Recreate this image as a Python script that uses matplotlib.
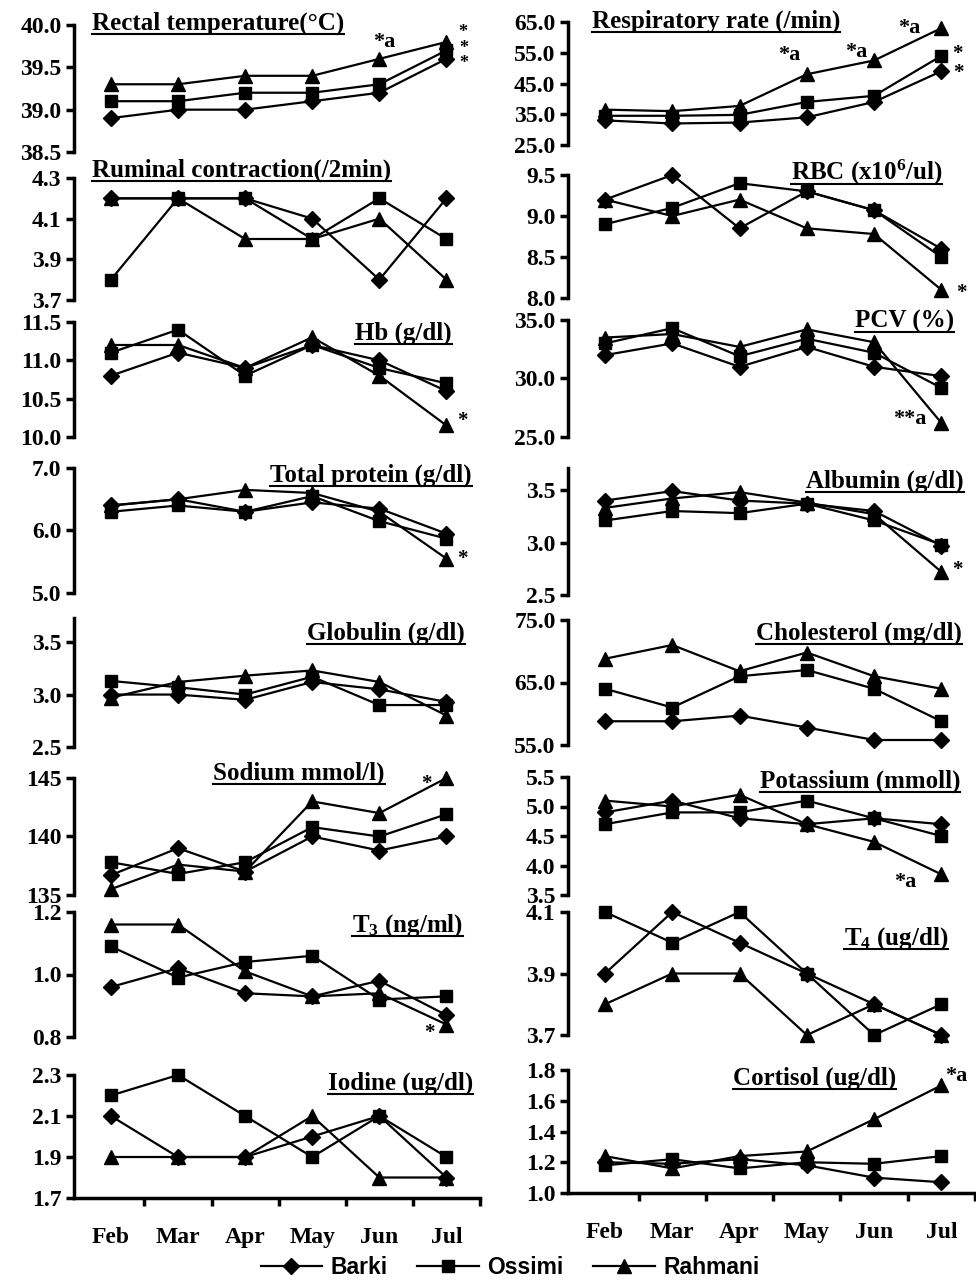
import matplotlib
matplotlib.use("Agg")
import matplotlib.pyplot as plt
from matplotlib.lines import Line2D

plt.rcParams.update({
    "font.family": "Liberation Serif",
    "font.weight": "bold",
    "mathtext.fontset": "custom",
    "mathtext.rm": "Liberation Serif:bold",
    "mathtext.bf": "Liberation Serif:bold",
    "mathtext.it": "Liberation Serif:bold",
    "mathtext.default": "rm",
})

months = ["Feb", "Mar", "Apr", "May", "Jun", "Jul"]
breeds = ["Barki", "Ossimi", "Rahmani"]

# ---- data (Barki, Ossimi, Rahmani) ----
rectal_barki = [38.9, 39.0, 39.0, 39.1, 39.2, 39.6]
rectal_ossimi = [39.1, 39.1, 39.2, 39.2, 39.3, 39.7]
rectal_rahmani = [39.3, 39.3, 39.4, 39.4, 39.6, 39.8]

rumen_barki = [4.2, 4.2, 4.2, 4.1, 3.8, 4.2]
rumen_ossimi = [3.8, 4.2, 4.2, 4.0, 4.2, 4.0]
rumen_rahmani = [4.2, 4.2, 4.0, 4.0, 4.1, 3.8]

hb_barki = [10.8, 11.1, 10.9, 11.2, 11.0, 10.6]
hb_ossimi = [11.1, 11.4, 10.8, 11.2, 10.9, 10.7]
hb_rahmani = [11.2, 11.2, 10.9, 11.3, 10.8, 10.15]

tp_barki = [6.4, 6.5, 6.3, 6.45, 6.35, 5.95]
tp_ossimi = [6.3, 6.4, 6.3, 6.55, 6.15, 5.87]
tp_rahmani = [6.4, 6.5, 6.65, 6.6, 6.3, 5.55]

glob_barki = [3.0, 3.0, 2.95, 3.12, 3.05, 2.93]
glob_ossimi = [3.13, 3.07, 3.0, 3.17, 2.9, 2.9]
glob_rahmani = [2.97, 3.12, 3.18, 3.23, 3.12, 2.8]

na_barki = [136.7, 139.0, 137.0, 140.0, 138.8, 140.0]
na_ossimi = [137.8, 136.8, 137.8, 140.8, 140.0, 141.9]
na_rahmani = [135.5, 137.6, 137.0, 143.0, 142.0, 145.0]

t3_barki = [0.96, 1.02, 0.94, 0.93, 0.98, 0.87]
t3_ossimi = [1.09, 0.99, 1.04, 1.06, 0.92, 0.93]
t3_rahmani = [1.16, 1.16, 1.01, 0.93, 0.94, 0.84]

iodine_barki = [2.1, 1.9, 1.9, 2.0, 2.1, 1.8]
iodine_ossimi = [2.2, 2.3, 2.1, 1.9, 2.1, 1.9]
iodine_rahmani = [1.9, 1.9, 1.9, 2.1, 1.8, 1.8]

resp_barki = [33.0, 32.0, 32.3, 34.0, 39.0, 49.0]
resp_ossimi = [34.5, 34.5, 34.8, 39.0, 41.0, 54.0]
resp_rahmani = [36.5, 36.0, 37.7, 48.0, 52.5, 63.0]

rbc_barki = [9.2, 9.5, 8.85, 9.3, 9.07, 8.6]
rbc_ossimi = [8.9, 9.1, 9.4, 9.3, 9.07, 8.5]
rbc_rahmani = [9.2, 9.0, 9.2, 8.85, 8.78, 8.1]

pcv_barki = [32.0, 33.0, 31.0, 32.7, 31.0, 30.2]
pcv_ossimi = [33.0, 34.3, 31.9, 33.4, 32.2, 29.2]
pcv_rahmani = [33.5, 33.8, 32.7, 34.2, 33.1, 26.2]

alb_barki = [3.4, 3.49, 3.4, 3.37, 3.3, 2.97]
alb_ossimi = [3.21, 3.3, 3.28, 3.37, 3.21, 2.98]
alb_rahmani = [3.33, 3.42, 3.48, 3.38, 3.27, 2.72]

chol_barki = [58.8, 58.8, 59.7, 57.8, 55.8, 55.8]
chol_ossimi = [64.0, 61.0, 66.0, 67.0, 64.0, 58.8]
chol_rahmani = [68.8, 71.0, 66.8, 69.8, 66.0, 64.0]

k_barki = [4.9, 5.1, 4.8, 4.7, 4.8, 4.7]
k_ossimi = [4.7, 4.9, 4.9, 5.1, 4.8, 4.5]
k_rahmani = [5.1, 5.0, 5.2, 4.7, 4.4, 3.85]

t4_barki = [3.9, 4.1, 4.0, 3.9, 3.8, 3.7]
t4_ossimi = [4.1, 4.0, 4.1, 3.9, 3.7, 3.8]
t4_rahmani = [3.8, 3.9, 3.9, 3.7, 3.8, 3.7]

cort_barki = [1.2, 1.19, 1.22, 1.18, 1.1, 1.07]
cort_ossimi = [1.18, 1.22, 1.16, 1.2, 1.19, 1.24]
cort_rahmani = [1.24, 1.16, 1.24, 1.27, 1.48, 1.70]

# ---- figure ----
W, H = 976, 1282
fig = plt.figure(figsize=(W / 100, H / 100), dpi=100)

LEFT = (74, 480)
RIGHT = (568, 975)

markers = ["D", "s", "^"]
msizes = [8, 9, 10]

# (series, ylim, yticks, fmt, col, top px, bottom px, title, title x px, title baseline px, ha, annotations, last-row)
panels = [
    ((rectal_barki, rectal_ossimi, rectal_rahmani), (38.5, 40.0), [38.5, 39.0, 39.5, 40.0], "{:.1f}", LEFT, 25, 152,
     "Rectal temperature(°C)", 92, 30, "left",
     [(2, 4, "*a", 5, 17, 16), (2, 5, "*", 16, 9, 13), (1, 5, "*", 17, 2, 13), (0, 5, "*", 17, -5, 13)], False),
    ((rumen_barki, rumen_ossimi, rumen_rahmani), (3.7, 4.3), [3.7, 3.9, 4.1, 4.3], "{:.1f}", LEFT, 178, 300,
     "Ruminal contraction(/2min)", 92, 177, "left", [], False),
    ((hb_barki, hb_ossimi, hb_rahmani), (10.0, 11.5), [10.0, 10.5, 11.0, 11.5], "{:.1f}", LEFT, 322, 437,
     "Hb (g/dl)", 452, 340, "right", [(2, 5, "*", 16, 5, 15)], False),
    ((tp_barki, tp_ossimi, tp_rahmani), (5.0, 7.0), [5.0, 6.0, 7.0], "{:.1f}", LEFT, 468, 593,
     "Total protein (g/dl)", 472, 482, "right", [(2, 5, "*", 16, 0, 15)], False),
    ((glob_barki, glob_ossimi, glob_rahmani), (2.5, 3.73), [2.5, 3.0, 3.5], "{:.1f}", LEFT, 618, 747,
     "Globulin (g/dl)", 465, 640, "right", [], False),
    ((na_barki, na_ossimi, na_rahmani), (135, 145), [135, 140, 145], "{:.0f}", LEFT, 778, 895,
     "Sodium mmol/l)", 213, 780, "left", [(2, 5, "*", -20, -6, 15)], False),
    ((t3_barki, t3_ossimi, t3_rahmani), (0.8, 1.2), [0.8, 1.0, 1.2], "{:.1f}", LEFT, 912, 1037,
     "T$_{3}$ (ng/ml)", 463, 932, "right", [(2, 5, "*", -17, -9, 15)], False),
    ((iodine_barki, iodine_ossimi, iodine_rahmani), (1.7, 2.3), [1.7, 1.9, 2.1, 2.3], "{:.1f}", LEFT, 1075, 1198,
     "Iodine (ug/dl)", 473, 1090, "right", [], True),

    ((resp_barki, resp_ossimi, resp_rahmani), (25, 65), [25, 35, 45, 55, 65], "{:.1f}", RIGHT, 22, 145,
     "Respiratory rate (/min)", 592, 28, "left",
     [(2, 3, "*a", -18, 19, 16), (2, 4, "*a", -18, 8, 16), (2, 5, "*a", -32, 0, 16),
      (1, 5, "*", 16, 2, 15), (0, 5, "*", 17, -2, 15)], False),
    ((rbc_barki, rbc_ossimi, rbc_rahmani), (8.0, 9.5), [8.0, 8.5, 9.0, 9.5], "{:.1f}", RIGHT, 175, 298,
     "RBC (x10$^{6}$/ul)", 942, 180, "right", [(2, 5, "*", 20, -3, 15)], False),
    ((pcv_barki, pcv_ossimi, pcv_rahmani), (25, 35), [25, 30, 35], "{:.1f}", RIGHT, 320, 437,
     "PCV (%)", 954, 328, "right", [(2, 5, "**a", -32, 4, 16)], False),
    ((alb_barki, alb_ossimi, alb_rahmani), (2.5, 3.71), [2.5, 3.0, 3.5], "{:.1f}", RIGHT, 468, 595,
     "Albumin (g/dl)", 964, 488, "right", [(2, 5, "*", 16, 2, 15)], False),
    ((chol_barki, chol_ossimi, chol_rahmani), (55, 75), [55, 65, 75], "{:.1f}", RIGHT, 620, 745,
     "Cholesterol (mg/dl)", 962, 640, "right", [], False),
    ((k_barki, k_ossimi, k_rahmani), (3.5, 5.5), [3.5, 4.0, 4.5, 5.0, 5.5], "{:.1f}", RIGHT, 777, 895,
     "Potassium (mmoll)", 960, 788, "right", [(2, 5, "*a", -36, -8, 16)], False),
    ((t4_barki, t4_ossimi, t4_rahmani), (3.7, 4.1), [3.7, 3.9, 4.1], "{:.1f}", RIGHT, 912, 1035,
     "T$_{4}$ (ug/dl)", 948, 945, "right", [], False),
    ((cort_barki, cort_ossimi, cort_rahmani), (1.0, 1.8), [1.0, 1.2, 1.4, 1.6, 1.8], "{:.1f}", RIGHT, 1070, 1193,
     "Cortisol (ug/dl)", 733, 1085, "left", [(2, 5, "*a", 15, 9, 16)], True),
]

titles = []
x = list(range(len(months)))
for (series, ylim, yticks, fmt, col, top, bottom, title, tx, tb, ha, annots, last) in panels:
    x0, x1 = col
    ax = fig.add_axes([x0 / W, 1 - bottom / H, (x1 - x0) / W, (bottom - top) / H])
    ax.patch.set_visible(False)
    ax.set_xlim(-0.55, 5.5)
    ax.set_ylim(*ylim)
    for s in ("top", "right"):
        ax.spines[s].set_visible(False)
    ax.spines["left"].set_linewidth(2.5)
    ax.set_yticks(yticks)
    ax.set_yticklabels([fmt.format(v) for v in yticks])
    ax.tick_params(axis="y", direction="out", length=6, width=2.5, pad=3, labelsize=17)
    if last:
        ax.spines["bottom"].set_linewidth(2.5)
        ax.set_xticks([0.5, 1.5, 2.5, 3.5, 4.5, 5.5])
        ax.set_xticklabels([])
        ax.tick_params(axis="x", which="major", direction="out", length=6, width=2.5)
        ax.set_xticks(x, minor=True)
        ax.set_xticklabels(months, minor=True)
        ax.tick_params(axis="x", which="minor", length=0, pad=21, labelsize=17)
    else:
        ax.spines["bottom"].set_visible(False)
        ax.set_xticks([])
    for vals, m, ms in zip(series, markers, msizes):
        ax.plot(x, vals, marker=m, color="black", lw=1.6, ms=ms, clip_on=False)
    for si, pi, txt, dx, dy, fs in annots:
        ax.annotate(txt, xy=(pi, series[si][pi]), xytext=(dx, dy), textcoords="offset pixels",
                    ha="center", va="center", fontsize=fs, fontweight="bold")
    t = fig.text(tx / W, 1 - tb / H, title, ha=ha, va="baseline", fontsize=18, fontweight="bold")
    titles.append((t, tb))

# legend
handles = [Line2D([], [], color="black", lw=1.6, marker=m, ms=ms) for m, ms in zip(markers, msizes)]
fig.legend(handles, breeds, loc="center", bbox_to_anchor=(510 / W, 1 - 1268 / H), ncol=3, frameon=False,
           handlelength=2.7, handletextpad=0.35, columnspacing=1.3,
           prop={"family": "Liberation Sans", "weight": "bold", "size": 16.5})

# underline the titles
fig.canvas.draw()
r = fig.canvas.get_renderer()
for t, tb in titles:
    bb = t.get_window_extent(renderer=r)
    yline = 1 - (tb + 4) / H
    fig.add_artist(Line2D([bb.x0 / W, bb.x1 / W], [yline, yline], color="black", lw=1.5,
                          transform=fig.transFigure))

fig.savefig("out.png", dpi=100)
